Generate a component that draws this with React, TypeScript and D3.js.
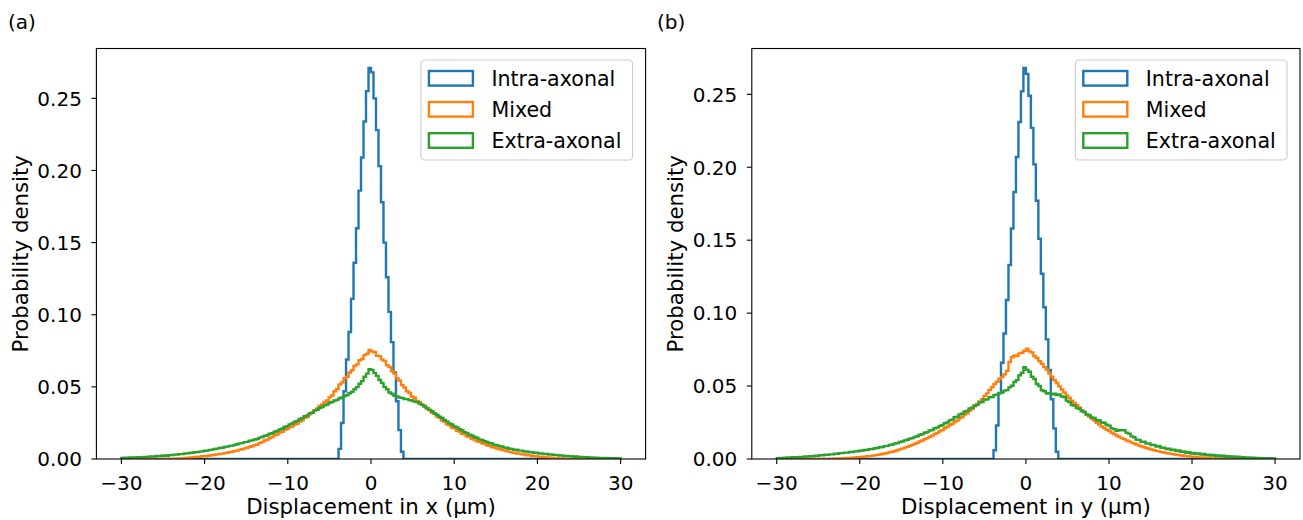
import React from "react";
import * as d3 from "d3";

// ---------------- DATA ----------------
// Shared histogram bins: 200 bins of width 0.3 from -30 to 30
const binStart = -30;
const binWidth = 0.3;
const binCount = 200;

// Intra-axonal: non-zero bins only, starting at edge -3.9 (density)
const intraFirstEdge = -3.9;
const intraA = [
  0.007, 0.025, 0.047, 0.069, 0.088, 0.111, 0.136, 0.160, 0.186, 0.209, 0.234, 0.255, 0.271,
  0.268, 0.250, 0.228, 0.203, 0.178, 0.150, 0.126, 0.102, 0.081, 0.060, 0.040, 0.020, 0.005,
];
const intraB = [
  0.006, 0.023, 0.045, 0.066, 0.086, 0.109, 0.133, 0.158, 0.183, 0.207, 0.231, 0.252, 0.268,
  0.264, 0.249, 0.227, 0.202, 0.177, 0.151, 0.127, 0.104, 0.082, 0.061, 0.041, 0.021, 0.005,
];

// Mixed and Extra-axonal: density x 1000 (per mille), 200 bins
const mixedA = [
  0, 0, 0, 0, 0, 0, 0, 0, 0, 0,
  0, 0, 0, 0, 0, 0, 0, 0, 0, 0,
  0, 0, 0.2, 0.3, 0.4, 0.7, 0.8, 1.0, 1.1, 1.4,
  1.5, 1.6, 1.9, 1.9, 2.2, 2.4, 2.6, 2.9, 3.2, 3.5,
  3.7, 4.1, 4.3, 4.8, 5.0, 5.5, 5.8, 6.5, 6.8, 7.4,
  7.8, 8.5, 8.8, 9.6, 10.1, 11.2, 11.7, 12.8, 13.4, 14.5,
  15.2, 16.5, 17.0, 18.3, 18.8, 20.2, 20.8, 22.0, 22.5, 23.8,
  24.4, 26.0, 26.8, 28.5, 29.0, 30.9, 32.0, 33.9, 35.0, 36.8,
  37.8, 39.6, 40.5, 42.7, 44.0, 47.0, 48.5, 51.6, 53.0, 56.0,
  57.0, 60.0, 61.5, 64.5, 65.6, 68.4, 69.3, 72.0, 73.0, 75.6,
  74.5, 74.0, 71.6, 71.3, 69.0, 68.0, 65.0, 63.8, 60.8, 59.2,
  56.0, 54.4, 51.2, 49.6, 47.0, 45.8, 43.3, 42.5, 40.3, 39.6,
  37.5, 36.9, 34.8, 34.2, 32.1, 31.5, 29.5, 28.8, 26.7, 25.9,
  24.0, 23.4, 21.7, 21.2, 19.5, 19.0, 17.5, 17.1, 15.7, 15.2,
  13.9, 13.5, 12.3, 12.0, 10.9, 10.5, 9.5, 9.2, 8.3, 8.0,
  7.2, 6.9, 6.2, 6.0, 5.3, 5.1, 4.5, 4.3, 3.8, 3.7,
  3.2, 3.1, 2.6, 2.5, 2.1, 2.0, 1.7, 1.6, 1.4, 1.3,
  1.1, 1.0, 0.8, 0.6, 0.5, 0.3, 0.2, 0, 0, 0,
  0, 0, 0, 0, 0, 0, 0, 0, 0, 0,
  0, 0, 0, 0, 0, 0, 0, 0, 0, 0,
];
const extraA = [
  0.7, 0.9, 0.8, 1.0, 1.0, 1.1, 1.3, 1.1, 1.3, 1.5,
  1.5, 1.7, 1.8, 1.7, 2.1, 2.1, 2.3, 2.4, 2.3, 2.7,
  2.8, 3.0, 3.1, 3.4, 3.4, 3.8, 3.9, 4.2, 4.3, 4.7,
  4.8, 5.1, 5.3, 5.7, 5.8, 6.3, 6.5, 6.9, 7.2, 7.6,
  7.8, 8.3, 8.6, 9.1, 9.3, 9.8, 10.2, 10.8, 11.0, 11.7,
  11.9, 12.6, 12.9, 13.5, 13.9, 14.8, 15.2, 16.1, 16.5, 17.5,
  17.9, 18.9, 19.4, 20.5, 21.0, 22.2, 22.8, 24.0, 24.6, 25.8,
  26.4, 27.6, 28.3, 29.6, 30.2, 31.6, 32.1, 33.5, 34.1, 35.4,
  36.0, 37.2, 37.8, 39.0, 39.5, 40.6, 41.0, 42.1, 42.6, 43.7,
  44.3, 45.6, 46.6, 48.3, 49.8, 52.2, 54.0, 57.0, 59.2, 62.3,
  61.8, 59.5, 57.6, 54.8, 52.8, 50.0, 48.4, 46.1, 45.2, 43.8,
  43.4, 42.6, 42.4, 41.6, 41.5, 40.8, 40.6, 39.8, 39.5, 38.4,
  37.7, 36.3, 35.4, 33.9, 33.1, 31.6, 30.7, 29.3, 28.4, 27.0,
  26.1, 24.7, 23.9, 22.6, 21.9, 20.6, 19.9, 18.6, 18.0, 16.8,
  16.3, 15.2, 14.7, 13.6, 13.2, 12.3, 11.9, 11.0, 10.7, 9.8,
  9.6, 8.8, 8.7, 7.9, 7.8, 7.1, 7.0, 6.4, 6.4, 5.8,
  5.8, 5.2, 5.2, 4.7, 4.8, 4.2, 4.3, 3.8, 3.9, 3.4,
  3.5, 3.0, 3.1, 2.7, 2.8, 2.4, 2.5, 2.1, 2.2, 1.8,
  1.9, 1.6, 1.7, 1.4, 1.5, 1.2, 1.3, 1.0, 1.1, 0.8,
  0.9, 0.7, 0.8, 0.6, 0.7, 0.5, 0.6, 0.4, 0.5, 0.3,
];
const mixedB = [
  0, 0, 0, 0, 0, 0, 0, 0, 0, 0,
  0, 0, 0, 0, 0, 0, 0, 0, 0, 0,
  0, 0, 0, 0.2, 0.3, 0.4, 0.5, 0.6, 0.7, 0.8,
  0.9, 1.0, 1.2, 1.3, 1.5, 1.6, 1.9, 2.0, 2.3, 2.5,
  2.8, 3.1, 3.4, 3.8, 4.1, 4.6, 5.0, 5.5, 6.0, 6.6,
  7.1, 7.8, 8.3, 9.1, 9.7, 10.5, 11.1, 12.0, 12.7, 13.6,
  14.3, 15.3, 16.0, 17.1, 17.9, 19.0, 19.8, 21.1, 21.9, 23.2,
  24.0, 25.4, 26.3, 27.9, 28.8, 30.4, 31.4, 33.2, 34.3, 36.2,
  37.5, 39.5, 41.0, 43.3, 45.0, 47.4, 49.2, 51.4, 53.0, 55.0,
  56.2, 58.0, 60.4, 66.5, 69.8, 71.0, 70.6, 72.4, 72.8, 74.2,
  75.6, 73.8, 73.0, 70.4, 69.2, 67.0, 65.3, 63.0, 61.2, 58.6,
  56.5, 54.0, 52.1, 49.8, 47.6, 45.6, 43.5, 41.9, 40.0, 38.5,
  36.8, 35.3, 33.5, 32.1, 30.4, 29.1, 27.5, 26.3, 24.8, 23.7,
  22.3, 21.2, 20.1, 19.1, 18.0, 17.1, 16.1, 15.3, 14.3, 13.6,
  12.7, 12.1, 11.2, 10.6, 9.9, 9.3, 8.6, 8.1, 7.5, 7.0,
  6.5, 6.0, 5.6, 5.2, 4.8, 4.5, 4.1, 3.8, 3.5, 3.2,
  2.9, 2.7, 2.4, 2.2, 2.0, 1.8, 1.6, 1.4, 1.3, 1.1,
  1.0, 0.8, 0.7, 0.5, 0.4, 0.3, 0.2, 0, 0, 0,
  0, 0, 0, 0, 0, 0, 0, 0, 0, 0,
  0, 0, 0, 0, 0, 0, 0, 0, 0, 0,
];
const extraB = [
  0.6, 0.8, 0.7, 0.9, 1.0, 0.9, 1.2, 1.1, 1.3, 1.4,
  1.4, 1.7, 1.7, 2.0, 1.9, 2.3, 2.2, 2.6, 2.5, 2.9,
  2.9, 3.2, 3.2, 3.6, 3.6, 4.0, 4.0, 4.4, 4.4, 4.8,
  4.8, 5.2, 5.3, 5.7, 5.8, 6.2, 6.3, 6.8, 6.9, 7.4,
  7.5, 8.1, 8.2, 8.8, 9.0, 9.7, 9.9, 10.6, 10.9, 11.7,
  12.0, 12.8, 13.2, 14.0, 14.3, 15.2, 15.6, 16.6, 17.0, 18.0,
  18.4, 19.5, 19.9, 21.1, 21.5, 22.7, 23.1, 24.5, 25.0, 26.5,
  27.0, 28.6, 29.0, 30.6, 31.0, 32.6, 33.0, 34.7, 35.1, 36.7,
  37.1, 38.7, 39.0, 40.6, 40.9, 42.3, 42.5, 43.9, 44.0, 45.3,
  45.5, 46.9, 47.2, 49.1, 50.2, 52.8, 54.1, 57.4, 59.1, 63.0,
  61.2, 59.8, 56.4, 54.8, 51.4, 50.0, 47.1, 46.4, 44.9, 45.1,
  44.3, 44.8, 43.9, 44.3, 42.8, 42.4, 40.0, 39.0, 36.9, 36.6,
  34.9, 34.4, 32.7, 32.2, 30.5, 30.0, 28.4, 28.1, 26.6, 26.4,
  25.1, 24.9, 23.5, 22.9, 21.0, 20.5, 19.3, 19.9, 19.6, 19.7,
  18.1, 17.4, 15.5, 14.9, 13.3, 13.1, 11.8, 11.8, 10.6, 10.6,
  9.5, 9.6, 8.5, 8.7, 7.6, 7.8, 6.8, 7.1, 6.1, 6.4,
  5.5, 5.8, 4.9, 5.2, 4.3, 4.6, 3.8, 4.2, 3.4, 3.8,
  3.0, 3.4, 2.6, 3.0, 2.3, 2.7, 2.0, 2.4, 1.7, 2.2,
  1.5, 1.9, 1.3, 1.7, 1.1, 1.5, 0.9, 1.3, 0.8, 1.1,
  0.7, 0.9, 0.5, 0.8, 0.4, 0.6, 0.3, 0.5, 0.2, 0.4,
];

const seriesNames = ["Intra-axonal", "Mixed", "Extra-axonal"];
const seriesColors = ["#1f77b4", "#ff7f0e", "#2ca02c"];
const xTicks = [-30, -20, -10, 0, 10, 20, 30];
const yTicks = [0, 0.05, 0.1, 0.15, 0.2, 0.25];
const panelLabels = ["(a)", "(b)"];
const xLabels = ["Displacement in x (μm)", "Displacement in y (μm)"];
const yLabel = "Probability density";

// ---------------- LAYOUT ----------------
const W = 1303;
const H = 520;
const FONT = "DejaVu Sans, sans-serif";
const FS_TICK = 20;
const FS_LABEL = 21.3;
const FS_LEG = 20.6;
const axTop = 48.5;
const axBottom = 459;
const panelBoxes = [
  { left: 96.4, right: 645.6, labelX: 8 },
  { left: 751.8, right: 1300, labelX: 657 },
];

const edges = d3.range(binCount + 1).map((i) => binStart + i * binWidth);

function padIntra(vals: number[]): number[] {
  const startIdx = Math.round((intraFirstEdge - binStart) / binWidth);
  const out = new Array(binCount).fill(0);
  vals.forEach((v, i) => (out[startIdx + i] = v));
  return out;
}

function fmtX(v: number) {
  return v < 0 ? "\u2212" + Math.abs(v) : String(v);
}

function Panel({ idx }: { idx: number }) {
  const box = panelBoxes[idx];
  const intra = padIntra(idx === 0 ? intraA : intraB);
  const mixed = (idx === 0 ? mixedA : mixedB).map((v) => v / 1000);
  const extra = (idx === 0 ? extraA : extraB).map((v) => v / 1000);
  const all = [intra, mixed, extra];
  const dataMax = d3.max(all.flat()) as number;

  const x = d3.scaleLinear().domain([-33, 33]).range([box.left, box.right]);
  const y = d3.scaleLinear().domain([0, dataMax * 1.05]).range([axBottom, axTop]);

  const line = d3
    .line<[number, number]>()
    .x((d) => x(d[0]))
    .y((d) => y(d[1]));

  const stepPath = (vals: number[]) => {
    const pts: [number, number][] = [[edges[0], 0]];
    vals.forEach((v, i) => {
      pts.push([edges[i], v]);
      pts.push([edges[i + 1], v]);
    });
    pts.push([edges[binCount], 0]);
    return line(pts) || "";
  };

  const legW = 211.7;
  const legRight = box.right - 13;
  const legLeft = legRight - legW;
  const legTop = 60;
  const rowY = [78.3, 109.3, 140.5];
  const cx = (box.left + box.right) / 2;
  const cy = (axTop + axBottom) / 2;

  return (
    <g>
      <defs>
        <clipPath id={`clip${idx}`}>
          <rect x={box.left} y={axTop - 2} width={box.right - box.left} height={axBottom - axTop + 2} />
        </clipPath>
      </defs>
      <g clipPath={`url(#clip${idx})`}>
        {all.map((vals, si) => (
          <path
            key={si}
            d={stepPath(vals)}
            fill="none"
            stroke={seriesColors[si]}
            strokeWidth={2.4}
            strokeLinejoin="miter"
          />
        ))}
      </g>
      {/* spines */}
      <rect
        x={box.left}
        y={axTop}
        width={box.right - box.left}
        height={axBottom - axTop}
        fill="none"
        stroke="#000"
        strokeWidth={1.1}
      />
      {/* x ticks */}
      {xTicks.map((t) => (
        <g key={t}>
          <line x1={x(t)} x2={x(t)} y1={axBottom} y2={axBottom + 5} stroke="#000" strokeWidth={1.1} />
          <text x={x(t)} y={490} textAnchor="middle" fontFamily={FONT} fontSize={FS_TICK} fill="#000">
            {fmtX(t)}
          </text>
        </g>
      ))}
      {/* y ticks */}
      {yTicks.map((t) => (
        <g key={t}>
          <line x1={box.left - 5} x2={box.left} y1={y(t)} y2={y(t)} stroke="#000" strokeWidth={1.1} />
          <text
            x={box.left - 14.5}
            y={y(t) + 7.3}
            textAnchor="end"
            fontFamily={FONT}
            fontSize={FS_TICK}
            fill="#000"
          >
            {t.toFixed(2)}
          </text>
        </g>
      ))}
      <text x={cx} y={513.5} textAnchor="middle" fontFamily={FONT} fontSize={FS_LABEL} fill="#000">
        {xLabels[idx]}
      </text>
      <text
        transform={`translate(${box.left - 68.5},${cy}) rotate(-90)`}
        textAnchor="middle"
        fontFamily={FONT}
        fontSize={FS_LABEL}
        fill="#000"
      >
        {yLabel}
      </text>
      <text x={box.labelX} y={29} fontFamily={FONT} fontSize={FS_TICK} fill="#000">
        {panelLabels[idx]}
      </text>
      {/* legend */}
      <rect
        x={legLeft}
        y={legTop}
        width={legW}
        height={100}
        rx={4}
        ry={4}
        fill="#fff"
        fillOpacity={0.8}
        stroke="#cccccc"
        strokeWidth={1.1}
      />
      {seriesNames.map((n, i) => (
        <g key={n}>
          <rect
            x={legLeft + 8}
            y={rowY[i] - 7.3}
            width={44}
            height={14.6}
            fill="none"
            stroke={seriesColors[i]}
            strokeWidth={2.4}
          />
          <text x={legLeft + 70.5} y={rowY[i] + 7.4} fontFamily={FONT} fontSize={FS_LEG} fill="#000">
            {n}
          </text>
        </g>
      ))}
    </g>
  );
}

export default function App() {
  return (
    <svg
      width={W}
      height={H}
      viewBox={`0 0 ${W} ${H}`}
      style={{ position: "absolute", left: 0, top: 0, background: "#fff" }}
    >
      <rect x={0} y={0} width={W} height={H} fill="#fff" />
      <Panel idx={0} />
      <Panel idx={1} />
    </svg>
  );
}
